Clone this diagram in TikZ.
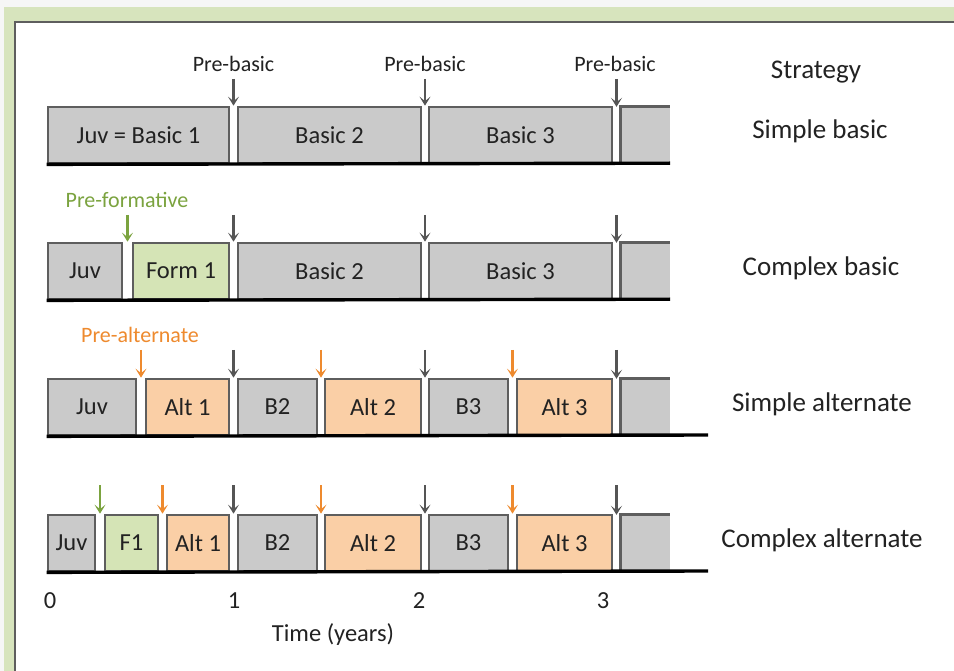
\documentclass[tikz,border=0pt]{standalone}
\usepackage{fontspec}
\setmainfont{Carlito}
\usetikzlibrary{arrows.meta}
\definecolor{framegreen}{HTML}{D7E4BD}
\definecolor{basgray}{HTML}{CACACA}
\definecolor{boxline}{HTML}{5E5E5E}
\definecolor{txt}{HTML}{222222}
\definecolor{formgreen}{HTML}{D5E4B6}
\definecolor{altorange}{HTML}{FACFA6}
\definecolor{arrgray}{HTML}{555555}
\definecolor{arrgreen}{HTML}{7BA33F}
\definecolor{arrorange}{HTML}{EE8A2E}

\begin{document}
\begin{tikzpicture}[x=1pt, y=-1pt,
    box/.style={draw=boxline, line width=2.7pt, minimum height=56pt, inner sep=0pt, text=txt, font=\fontsize{24.5}{28}\selectfont},
    bas/.style={box, fill=basgray},
    frm/.style={box, fill=formgreen},
    alt/.style={box, fill=altorange},
    tail/.style={fill=basgray, minimum height=56pt, minimum width=49pt, inner sep=0pt},
    tailedge/.style={draw=boxline, line width=2.7pt},
    base/.style={line width=3.4pt, black},
    moult/.style={-{Stealth[length=9pt,width=11pt,inset=4.5pt]}, line width=2.2pt, draw=arrgray},
    molttag/.style={font=\fontsize{22}{26}\selectfont, text=txt},
    strat/.style={font=\fontsize{27}{31}\selectfont, text=txt},
    tick/.style={font=\fontsize{24.5}{28}\selectfont, text=txt}
  ]
    \useasboundingbox (0,0) rectangle (954,671);
    % frame
    \fill[gray!7] (0,0) rectangle (954,671);
    \fill[framegreen] (4,7) rectangle (954,671);
    \fill[white] (15,22) rectangle (954,671);
    \draw[boxline, line width=1.4pt] (15,671) -- (15,22) -- (954,22);

    % labels
    \node[strat] (st) at (816,72) {Strategy};
    \node[strat] (s1) at (820,131) {Simple basic};
    \node[strat] (s2) at (821,268) {Complex basic};
    \node[strat] (s3) at (822,404) {Simple alternate};
    \node[strat] (s4) at (822,540) {Complex alternate};

    \node[molttag] (pb1) at (233.5,64) {Pre-basic};
    \node[molttag] (pb2) at (425,64) {Pre-basic};
    \node[molttag] (pb3) at (615,64) {Pre-basic};
    \node[molttag, text=arrgreen] (pf) at (127,200) {Pre-formative};
    \node[molttag, text=arrorange] (pa) at (140,335) {Pre-alternate};

    % simple basic
    \node[bas, minimum width=181pt] (r1a) at (138.5,135) {Juv = Basic 1};
    \node[bas, minimum width=183pt] (r1b) at (329.5,135) {Basic 2};
    \node[bas, minimum width=183pt] (r1c) at (520.5,135) {Basic 3};
    \node[tail] (r1t) at (645.5,135) {};
    \draw[tailedge] (r1t.south west) -- (r1t.north west) -- (r1t.north east);
    \draw[base] (r1a.south west) -- (r1t.south east);

    % complex basic
    \node[bas, minimum width=74pt] (r2j) at (85,271) {Juv};
    \node[frm, minimum width=96pt] (r2f) at (181,271) {Form 1};
    \node[bas, minimum width=183pt] (r2b) at (329.5,271) {Basic 2};
    \node[bas, minimum width=183pt] (r2c) at (520.5,271) {Basic 3};
    \node[tail] (r2t) at (645.5,271) {};
    \draw[tailedge] (r2t.south west) -- (r2t.north west) -- (r2t.north east);
    \draw[base] (r2j.south west) -- (r2t.south east);

    % simple alternate
    \node[bas, minimum width=88pt] (r3j) at (92,407) {Juv};
    \node[alt, minimum width=83pt] (r3a) at (187.5,407) {Alt 1};
    \node[bas, minimum width=79pt] (r3b) at (277.5,407) {B2};
    \node[alt, minimum width=96pt] (r3c) at (373,407) {Alt 2};
    \node[bas, minimum width=79pt] (r3d) at (468.5,407) {B3};
    \node[alt, minimum width=95pt] (r3e) at (564.5,407) {Alt 3};
    \node[tail] (r3t) at (645.5,407) {};
    \draw[tailedge] (r3t.south west) -- (r3t.north west) -- (r3t.north east);
    \coordinate (e3) at (708,435);
    \draw[base] (r3j.south west) -- (e3);

    % complex alternate
    \node[bas, minimum width=47pt] (r4j) at (71.5,543) {Juv};
    \node[frm, minimum width=53pt] (r4f) at (131.5,543) {F1};
    \node[alt, minimum width=62pt] (r4a) at (198,543) {Alt 1};
    \node[bas, minimum width=79pt] (r4b) at (277.5,543) {B2};
    \node[alt, minimum width=96pt] (r4c) at (373,543) {Alt 2};
    \node[bas, minimum width=79pt] (r4d) at (468.5,543) {B3};
    \node[alt, minimum width=95pt] (r4e) at (564.5,543) {Alt 3};
    \node[tail] (r4t) at (645.5,543) {};
    \draw[tailedge] (r4t.south west) -- (r4t.north west) -- (r4t.north east);
    \coordinate (e4) at (708,571);
    \draw[base] (r4j.south west) -- (e4);

    % moult arrows
    \coordinate (m1) at (233.5,79);
    \coordinate (m2) at (425,79);
    \coordinate (m3) at (616.5,79);
    \draw[moult] (m1) -- (m1 |- r1b.north);
    \draw[moult] (m2) -- (m2 |- r1c.north);
    \draw[moult] (m3) -- (m3 |- r1t.north);

    \coordinate (f2) at (127.5,215);
    \draw[moult, draw=arrgreen] (f2) -- (f2 |- r2f.north);
    \draw[moult] (m1 |- f2) -- (m1 |- r2b.north);
    \draw[moult] (m2 |- f2) -- (m2 |- r2c.north);
    \draw[moult] (m3 |- f2) -- (m3 |- r2t.north);

    \coordinate (a3) at (141,350);
    \coordinate (a3b) at (321,350);
    \coordinate (a3c) at (512.5,350);
    \draw[moult, draw=arrorange] (a3) -- (a3 |- r3a.north);
    \draw[moult, draw=arrorange] (a3b) -- (a3b |- r3c.north);
    \draw[moult, draw=arrorange] (a3c) -- (a3c |- r3e.north);
    \draw[moult] (m1 |- a3) -- (m1 |- r3b.north);
    \draw[moult] (m2 |- a3) -- (m2 |- r3d.north);
    \draw[moult] (m3 |- a3) -- (m3 |- r3t.north);

    \coordinate (f4) at (100,485);
    \coordinate (a4) at (162.5,485);
    \draw[moult, draw=arrgreen] (f4) -- (f4 |- r4f.north);
    \draw[moult, draw=arrorange] (a4) -- (a4 |- r4a.north);
    \draw[moult, draw=arrorange] (a3b |- f4) -- (a3b |- r4c.north);
    \draw[moult, draw=arrorange] (a3c |- f4) -- (a3c |- r4e.north);
    \draw[moult] (m1 |- f4) -- (m1 |- r4b.north);
    \draw[moult] (m2 |- f4) -- (m2 |- r4d.north);
    \draw[moult] (m3 |- f4) -- (m3 |- r4t.north);

    % time axis
    \node[tick] (t0) at (50,601) {0};
    \node[tick] (t1) at (234,601) {1};
    \node[tick] (t2) at (419,601) {2};
    \node[tick] (t3) at (603,601) {3};
    \node[tick] (tx) at (333,635) {Time (years)};
\end{tikzpicture}
\end{document}
